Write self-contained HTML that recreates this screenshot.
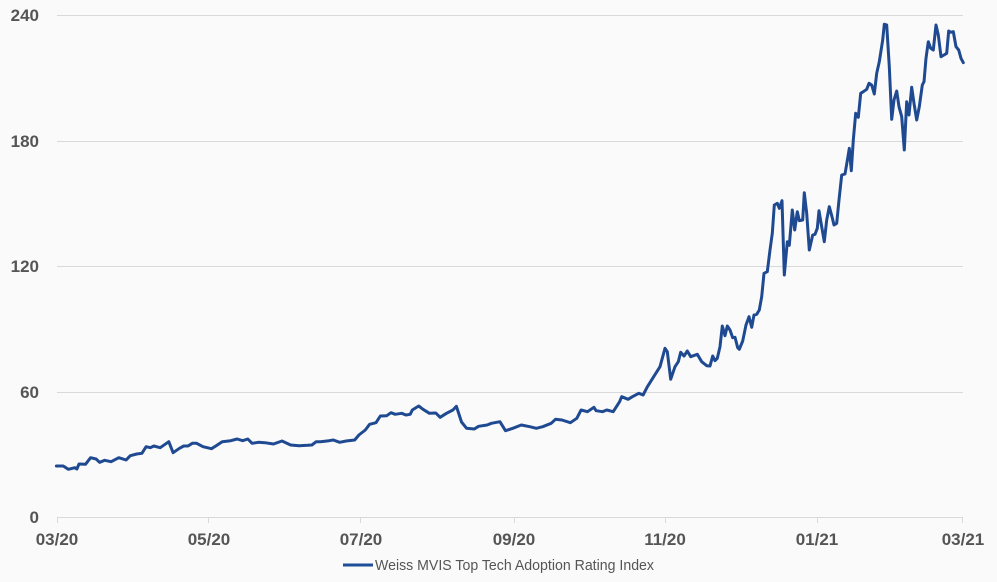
<!DOCTYPE html>
<html><head><meta charset="utf-8"><style>
html,body{margin:0;padding:0;background:#fafafa;}
svg{display:block;}
text{font-family:"Liberation Sans Narrow","Liberation Sans",sans-serif;fill:#555;}
</style></head><body>
<svg id="s" width="997" height="582" viewBox="0 0 997 582" xmlns="http://www.w3.org/2000/svg">
<rect width="997" height="582" fill="#fafafa"/>
<g stroke="#d9d9d9" stroke-width="1">
<line x1="57" y1="15.5" x2="963" y2="15.5"/>
<line x1="57" y1="141.5" x2="963" y2="141.5"/>
<line x1="57" y1="266.5" x2="963" y2="266.5"/>
<line x1="57" y1="392.5" x2="963" y2="392.5"/>
<line x1="57" y1="517.5" x2="963" y2="517.5"/>
<line x1="57.5" y1="517" x2="57.5" y2="523"/>
<line x1="208.5" y1="517" x2="208.5" y2="523"/>
<line x1="360.5" y1="517" x2="360.5" y2="523"/>
<line x1="514.5" y1="517" x2="514.5" y2="523"/>
<line x1="665.5" y1="517" x2="665.5" y2="523"/>
<line x1="817.5" y1="517" x2="817.5" y2="523"/>
<line x1="962.5" y1="517" x2="962.5" y2="523"/>
</g>
<g font-size="17" font-weight="bold" text-anchor="end">
<text x="39" y="21">240</text>
<text x="39" y="147">180</text>
<text x="39" y="272">120</text>
<text x="39" y="398">60</text>
<text x="39" y="523">0</text>
</g>
<g font-size="17" font-weight="bold" text-anchor="middle">
<text x="57" y="545">03/20</text>
<text x="209" y="545">05/20</text>
<text x="361" y="545">07/20</text>
<text x="514" y="545">09/20</text>
<text x="665" y="545">11/20</text>
<text x="817" y="545">01/21</text>
<text x="963" y="545">03/21</text>
</g>
<line x1="343" y1="565" x2="373" y2="565" stroke="#1f4e99" stroke-width="3"/>
<text x="375" y="570" font-size="15" textLength="279" lengthAdjust="spacingAndGlyphs">Weiss MVIS Top Tech Adoption Rating Index</text>
<path id="p" fill="none" stroke="#1f4a91" stroke-width="3" stroke-linejoin="round" stroke-linecap="round" d=""/>
</svg>
<script>
var a=[132,258,148,258,160,268,175,263,180,267,185,252,200,253,212,233,225,237,233,247,245,241,260,245,278,233,295,240,305,227,320,222,332,220,342,200,352,203,360,198,375,203,395,185,405,218,420,205,430,198,440,198,450,190,460,190,475,200,495,206,505,198,520,185,540,182,555,177,568,182,580,177,590,190,605,187,620,188,640,192,660,183,680,195,700,197,720,196,730,195,740,185,750,185,770,182,780,180,795,187,810,183,830,180,840,165,855,150,865,133,880,128,890,108,905,107,915,98,925,103,940,100,950,105,960,103,965,90,980,78,990,88,1005,100,1020,99,1030,112,1045,100,1060,90,1068,79,1080,126,1092,145,1110,147,1120,139,1140,135,1150,130,1170,125,1183,152,1200,145,1220,135,1240,140,1255,145,1270,140,1290,130,1300,118,1315,120,1335,128,1350,115,1360,90,1375,95,1390,82,1395,92,1410,95,1420,90,1435,95,1450,65,1455,50,1470,58,1480,50,1495,40,1505,45,1515,20];
var b=[0,1100,15,1045,22,1055,32,1138,45,1100,55,1085,62,1057,72,1068,82,1053,92,1070,112,1063,125,1085,140,1097,150,1098,158,1068,165,1082,172,1075,180,1040,187,978,195,1007,202,978,210,990,218,1013,225,1012,233,1043,238,1048,248,1023,258,975,267,950,275,982,282,945,290,943,298,930,305,890,312,820,322,815,330,750,337,700,343,615,352,610,358,625,366,602,373,825,382,725,388,736,397,630,404,690,412,635,418,662,428,660,433,578,440,640,448,750,458,705,465,703,472,685,477,632,485,680,493,725,500,660,508,620,516,650,522,675,530,670,537,600,545,525,555,522,563,475,568,445,574,512,580,420,587,340,595,352,602,280,610,275,620,268,627,250,635,255,643,282,650,220,658,185,668,120,673,73,680,75,688,200,695,358,702,300,710,273,717,320,725,350,733,450,740,305,747,345,755,262,762,310,770,360,778,320,787,255,792,245,798,175,805,125,812,145,820,150,828,75,835,105,843,170,852,165,860,160,866,93,872,97,880,95,888,140,896,150,903,175,910,188];
var d=[];
for(var i=0;i<a.length;i+=2){d.push((a[i]/2.3403).toFixed(1)+","+(380+a[i+1]/3).toFixed(1));}
for(var i=0;i<b.length;i+=2){d.push((b[i]/3+660).toFixed(1)+","+(b[i+1]/3).toFixed(1));}
document.getElementById("p").setAttribute("d","M"+d.join(" L"));
</script>
</body></html>
